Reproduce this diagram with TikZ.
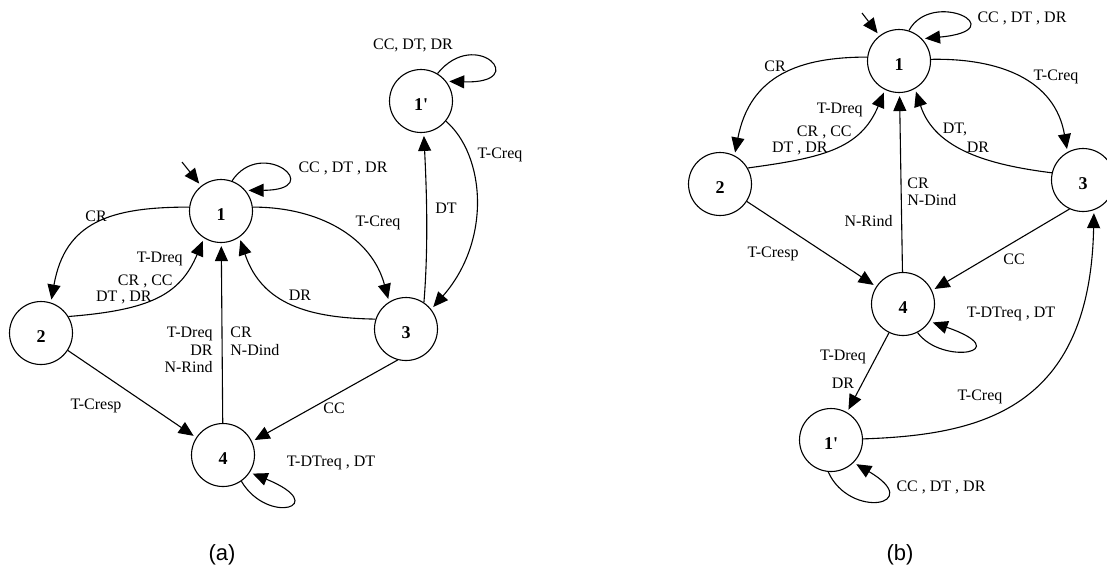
\documentclass[tikz,border=0pt]{standalone}
\usepackage{fontspec}
\setmainfont{Liberation Serif}
\newfontfamily\capfont{Liberation Sans}
\usetikzlibrary{arrows.meta}
\begin{document}
\begin{tikzpicture}[x=0.5pt, y=-0.5pt,
  state/.style={draw, circle, line width=0.55pt, minimum size=31.5pt, inner sep=0pt},
  edge/.style={draw, line width=0.55pt, -{Triangle[length=7.5pt,width=6.5pt]}, shorten >=1.5pt},
  lbl/.style={font=\fontsize{8}{8.75}\selectfont, inner sep=0pt},
  num/.style={font=\fontsize{9}{10}\selectfont\bfseries, inner sep=0pt},
  captext/.style={font=\fontsize{11}{12}\selectfont\capfont, inner sep=0pt}
]
\useasboundingbox (0,0) rectangle (1107,575);

% ---------------- (a) ----------------
\node[state, label={[num, yshift=-2pt]center:1}]  (n1a)  at (221,211) {};
\node[state, label={[num, yshift=-2pt]center:2}]  (n2a)  at (41,333)  {};
\node[state, label={[num, yshift=-2pt]center:3}]  (n3a)  at (406,329) {};
\node[state, label={[num, yshift=-2pt]center:4}]  (n4a)  at (223,455) {};
\node[state, label={[num, yshift=-2pt]center:1\textquotesingle}] (n1pa) at (421,101) {};
\coordinate (ia) at (182,162);

\draw[edge] (ia) -- (n1a);
\draw[edge] (n1a.70) .. controls (262,136) and (328,190) .. (n1a.40);
\draw[edge] (n1a.173) .. controls (110,207) and (65,222) .. (n2a.72);
\draw[edge] (n2a.31) .. controls (150,310) and (180,295) .. (n1a.238);
\draw[edge] (n4a) -- (n1a);
\draw[edge] (n3a.162) .. controls (310,318) and (262,305) .. (n1a.305);
\draw[edge] (n1a.7) .. controls (320,207) and (372,238) .. (n3a.122);
\draw[edge] (n2a.-33) -- (n4a.147);
\draw[edge] (n3a.255) -- (n4a.25);
\draw[edge] (n3a.56) .. controls (429,240) and (426,180) .. (n1pa.-85);
\draw[edge] (n1pa.-39) .. controls (485,155) and (492,240) .. (n3a.38);
\draw[edge] (n1pa.59) .. controls (476,26) and (532,84) .. (n1pa.38);
\draw[edge] (n4a.-55) .. controls (268,526) and (332,506) .. (n4a.-33);

\node[lbl] (la1) at (343,168) {CC , DT , DR};
\node[lbl] (la2) at (413,45) {CC, DT, DR};
\node[lbl] (la3) at (96,216) {CR};
\node[lbl, anchor=east] (la4) at (183,259) {T-Dreq};
\node[lbl, anchor=east] (la5) at (173,281) {CR , CC};
\node[lbl, anchor=east] (la6) at (152,297) {DT , DR};
\node[lbl, anchor=east, align=right] (la7) at (213,350) {T-Dreq\\DR\\N-Rind};
\node[lbl, anchor=west, align=left] (la8) at (230,341.5) {CR\\N-Dind};
\node[lbl] (la9) at (378,223) {T-Creq};
\node[lbl] (la10) at (300,295) {DR};
\node[lbl] (la11) at (446,208) {DT};
\node[lbl] (la12) at (500,155) {T-Creq};
\node[lbl] (la13) at (96,406) {T-Cresp};
\node[lbl] (la14) at (334,408) {CC};
\node[lbl] (la15) at (331,463) {T-DTreq , DT};
\node[captext] (capa) at (222,555) {(a)};

% ---------------- (b) ----------------
\node[state, label={[num, yshift=-2pt]center:1}]  (n1b)  at (899,61)  {};
\node[state, label={[num, yshift=-2pt]center:2}]  (n2b)  at (720,184) {};
\node[state, label={[num, yshift=-2pt]center:3}]  (n3b)  at (1083,180) {};
\node[state, label={[num, yshift=-2pt]center:4}]  (n4b)  at (903,304) {};
\node[state, label={[num, yshift=-2pt]center:1\textquotesingle}] (n1pb) at (831,440) {};
\coordinate (ib) at (862,13);

\draw[edge] (ib) -- (n1b);
\draw[edge] (n1b.72) .. controls (932,-12) and (1016,30) .. (n1b.44);
\draw[edge] (n1b.173) .. controls (800,57) and (750,75) .. (n2b.63);
\draw[edge] (n2b.30) .. controls (820,158) and (860,150) .. (n1b.244);
\draw[edge] (n4b) -- (n1b);
\draw[edge] (n3b.167) .. controls (990,165) and (935,150) .. (n1b.300);
\draw[edge] (n1b.3) .. controls (1000,58) and (1055,80) .. (n3b.119);
\draw[edge] (n2b.-33) -- (n4b.147);
\draw[edge] (n3b.245) -- (n4b.25);
\draw[edge] (n4b.-63) .. controls (942,366) and (1018,352) .. (n4b.-33);
\draw[edge] (n4b.244) -- (n1pb.60);
\draw[edge] (n1pb.2) .. controls (980,435) and (1090,410) .. (n3b.-70);
\draw[edge] (n1pb.-95) .. controls (850,520) and (926,505) .. (n1pb.-45);

\node[lbl] (lb1) at (1022,18) {CC , DT , DR};
\node[lbl] (lb2) at (775,66) {CR};
\node[lbl] (lb3) at (1056,77) {T-Creq};
\node[lbl, anchor=east] (lb4) at (863,110) {T-Dreq};
\node[lbl, anchor=east] (lb5) at (852,132) {CR , CC};
\node[lbl, anchor=east] (lb6) at (828,148) {DT , DR};
\node[lbl] (lb7) at (955,129) {DT,};
\node[lbl] (lb8) at (978,147) {DR};
\node[lbl, anchor=west, align=left] (lb9) at (907,192) {CR\\N-Dind};
\node[lbl, anchor=east] (lb10) at (893,221) {N-Rind};
\node[lbl] (lb11) at (773,254) {T-Cresp};
\node[lbl] (lb12) at (1014,259) {CC};
\node[lbl] (lb13) at (1011,314) {T-DTreq , DT};
\node[lbl] (lb14) at (843,357) {T-Dreq};
\node[lbl] (lb15) at (843,383) {DR};
\node[lbl] (lb16) at (980,397) {T-Creq};
\node[lbl] (lb17) at (941,487) {CC , DT , DR};
\node[captext] (capb) at (900,555) {(b)};
\end{tikzpicture}
\end{document}
